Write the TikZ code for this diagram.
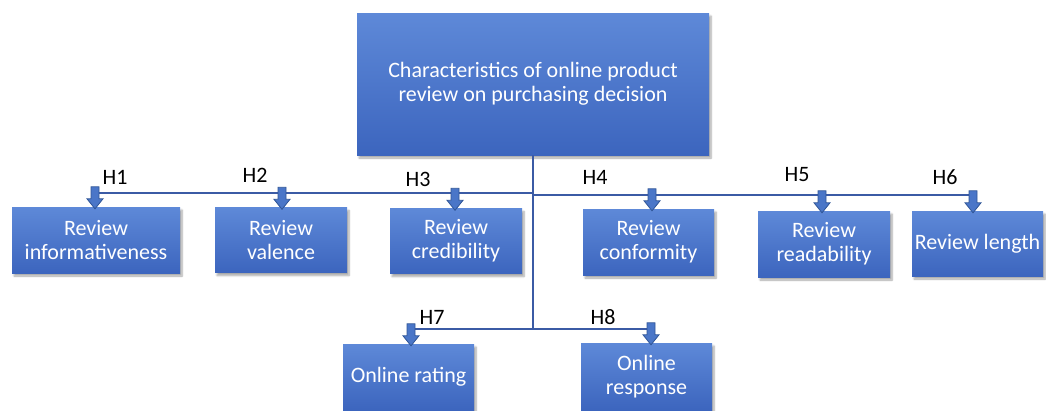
\documentclass[tikz,border=0pt]{standalone}
\usepackage{fontspec}
\setmainfont{Carlito}
\usetikzlibrary{calc,shadows.blur}
\definecolor{boxtop}{HTML}{5E89D8}
\definecolor{boxbot}{HTML}{3C65BE}
\definecolor{linecol}{HTML}{3B5BA5}
\definecolor{arrfill}{HTML}{4A76C8}
\definecolor{arrdraw}{HTML}{2F5597}
\tikzset{
  box/.style={rectangle, top color=boxtop, bottom color=boxbot, draw=none,
    text=white, align=center, inner sep=0pt,
    font=\fontsize{22}{24}\selectfont,
    blur shadow={shadow xshift=2pt, shadow yshift=-3pt, shadow blur steps=6, shadow opacity=35}},
  hlabel/.style={text=black, inner sep=0pt, font=\fontsize{22}{24}\selectfont},
  conn/.style={draw=linecol, line width=2.6pt},
  barrow/.pic={\draw[fill=arrfill, draw=arrdraw, line width=0.8pt, line join=miter]
     (0,0) -- (-8,-10) -- (-4,-10) -- (-4,-22) -- (4,-22) -- (4,-10) -- (8,-10) -- cycle;}
}
\begin{document}
\begin{tikzpicture}[x=1pt,y=-1pt]
\useasboundingbox (0,0) rectangle (1046,410);
% boxes
\node[box, minimum width=352, minimum height=142] (top) at (533,84)
  {Characteristics of online product\\review on purchasing decision};
\node[box, minimum width=168, minimum height=66] (inf) at (96,240) {Review\\informativeness};
\node[box, minimum width=132, minimum height=65] (val) at (281,240) {Review\\valence};
\node[box, minimum width=132, minimum height=65] (cred) at (456,241) {Review\\credibility};
\node[box, minimum width=131, minimum height=66] (conf) at (648.5,242) {Review\\conformity};
\node[box, minimum width=132, minimum height=66] (read) at (824,244) {Review\\readability};
\node[box, minimum width=131, minimum height=65] (len) at (977.5,243.5) {Review length};
\node[box, minimum width=131, minimum height=66] (rate) at (408.5,377) {Online rating};
\node[box, minimum width=131, minimum height=67] (resp) at (646.5,376.5) {Online\\response};
% junction coordinates
\coordinate (jl) at (533,193);
\coordinate (jr) at (533,195);
\coordinate (jb) at (533,329);
\coordinate (l1) at (95,193);
\coordinate (r6) at (973,195);
\coordinate (b7) at (411,329);
\coordinate (b8) at (651,329);
% connectors
\draw[conn] (top.south) -- (jb);
\draw[conn] (l1) -- (jl);
\draw[conn] (jr) -- (r6);
\draw[conn] (b7) -- (b8);
% arrows
\pic at ($(inf.north)+(-1,2)$) {barrow};
\pic at ($(val.north)+(1,2)$) {barrow};
\pic at ($(cred.north)+(-1,2)$) {barrow};
\pic at ($(conf.north)+(3.5,2)$) {barrow};
\pic at ($(read.north)+(-2,2)$) {barrow};
\pic at ($(len.north)+(-4.5,2)$) {barrow};
\pic at ($(rate.north)+(2.5,2)$) {barrow};
\pic at ($(resp.north)+(4.5,2)$) {barrow};
% labels
\node[hlabel] (h1) at (115,177) {H1};
\node[hlabel] (h2) at (255,175) {H2};
\node[hlabel] (h3) at (418,179) {H3};
\node[hlabel] (h4) at (595,177) {H4};
\node[hlabel] (h5) at (797,175) {H5};
\node[hlabel] (h6) at (945,177) {H6};
\node[hlabel] (h7) at (432,317) {H7};
\node[hlabel] (h8) at (603,317) {H8};
\end{tikzpicture}
\end{document}
